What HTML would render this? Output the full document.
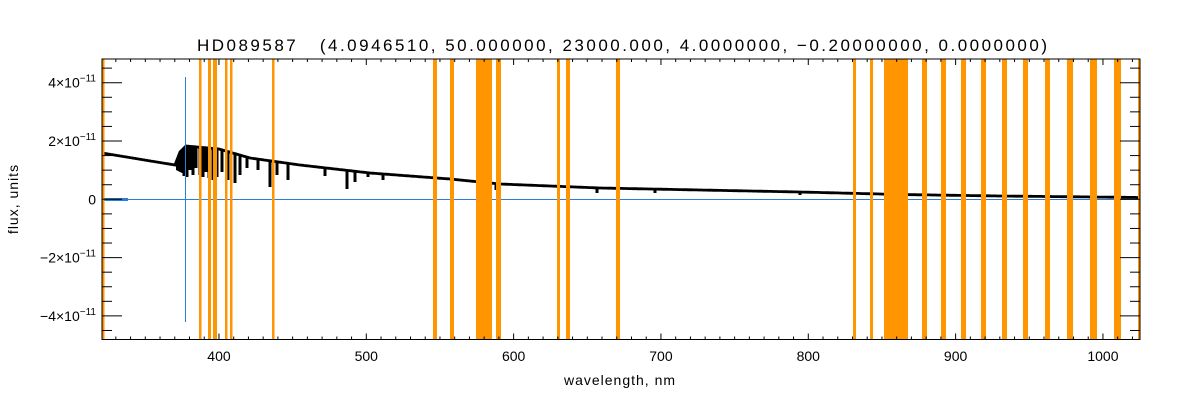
<!DOCTYPE html>
<html><head><meta charset="utf-8"><style>
html,body{margin:0;padding:0;background:#fff;}
svg{display:block;font-family:"Liberation Sans","DejaVu Sans",sans-serif;}
</style></head><body>
<svg id="s" width="1200" height="400" xmlns="http://www.w3.org/2000/svg">
<rect width="1200" height="400" fill="#fff"/>
<g id="spec"></g>
<line x1="102" y1="199.5" x2="1140" y2="199.5" stroke="#2a7fd4" stroke-width="1"/>
<line x1="185.5" y1="77" x2="185.5" y2="322" stroke="#2a7fd4" stroke-width="1"/>
<rect x="103" y="198" width="25" height="3" fill="#2a7fd4"/>
<g id="bands" fill="#ff9500"></g>
<g id="axes" stroke="#000" stroke-width="1" fill="none"></g>
<g id="labels" font-size="14" fill="#000"></g>
<text x="197" y="51" font-size="17" fill="#000" xml:space="preserve" textLength="850" lengthAdjust="spacing">HD089587   (4.0946510, 50.000000, 23000.000, 4.0000000, −0.20000000, 0.0000000)</text>
<text x="620" y="385" font-size="14" fill="#000" text-anchor="middle" letter-spacing="1">wavelength, nm</text>
<text transform="translate(18,199) rotate(-90)" font-size="14" fill="#000" text-anchor="middle" letter-spacing="1">flux, units</text>
</svg>
<script>
var NS="http://www.w3.org/2000/svg";
function el(p,t,a){var e=document.createElementNS(NS,t);for(var k in a)e.setAttribute(k,a[k]);p.appendChild(e);return e;}
var X=function(w){return 101.1+(w-320)*1.4733;};
var Y=function(f){return 199.3-f*29.15;};
var cont=[[102,153],[175,165],[180,152],[186,146],[219,149],[250,158],[300,165],[370,173],[450,179],[480,182],[500,184],[550,186],[600,188],[700,190],[800,192],[900,194.5],[1000,196],[1140,197.5]];
function cy(x){for(var i=0;i<cont.length-1;i++){if(x<=cont[i+1][0]){var a=cont[i],b=cont[i+1];return a[1]+(b[1]-a[1])*(x-a[0])/(b[0]-a[0]);}}return 197.5;}
var sp=document.getElementById('spec');
var d="M102 "+cy(102);
for(var x=102;x<=1140;x+=1){d+=" L"+x+" "+cy(x).toFixed(1);}
el(sp,'path',{d:d,stroke:'#000','stroke-width':2.8,fill:'none'});
el(sp,'path',{d:"M176 164 L180 156 L186 147 L186 175 L176 170 Z",fill:'#000'});
var lines=[[181,172],[184,176],[187,177],[190,170],[193,175],[196,168],[200,175],[203,177],[206,172],[209,178],[213,180],[217,177],[222,172],[228,180],[235,183],[240,175],[247,168],[258,170],[270,187],[277,175],[288,180],[325,176],[347,189],[355,182],[368,177],[383,180],[496,190],[597,193],[655,193],[800,195]];
lines.forEach(function(l){var c=cy(l[0]);el(sp,'rect',{x:l[0]-1.5,y:c,width:3,height:l[1]-c,fill:'#000'});});
var bands=[[102,104.5],[199,201.5],[208,211],[213,217],[225,227.5],[230,232.5],[272,274.5],[433,437],[450,454],[476,492],[496,501],[557,560],[566,570],[616,620],[853,856],[870,873],[884,908],[922,927],[941,946],[961,966],[981,986],[1002,1007],[1023,1028],[1045,1050],[1067,1073],[1090,1097],[1114,1121],[1138,1140]];
var bg=document.getElementById('bands');
bands.forEach(function(b){el(bg,'rect',{x:b[0],y:59,width:b[1]-b[0],height:281});});
var ax=document.getElementById('axes'),lb=document.getElementById('labels');
el(ax,'rect',{x:102,y:59,width:1038,height:280.5});
for(var w=330;w<=1020;w+=10){var xx=X(w);var L=(w%100==0)?6:3;
 el(ax,'line',{x1:xx,y1:339.5,x2:xx,y2:339.5-L});el(ax,'line',{x1:xx,y1:59,x2:xx,y2:59+L});
 if(w%100==0){var t=el(lb,'text',{x:xx,y:361,'text-anchor':'middle'});t.textContent=w;}}
for(var f=-4.5;f<=4.5;f+=0.5){var yy=Y(f);var maj=(Math.abs(f%2)<1e-6);var L=maj?20:10;
 el(ax,'line',{x1:102,y1:yy,x2:102+L,y2:yy});el(ax,'line',{x1:1140,y1:yy,x2:1140-L,y2:yy});
 if(maj){if(f==0){var t=el(lb,'text',{x:96,y:yy+5,'text-anchor':'end'});t.textContent='0';}
 else{var t=el(lb,'text',{x:96,y:yy+5,'text-anchor':'end'});
 t.innerHTML=(f<0?'−':'')+Math.abs(f)+'×10<tspan dy="-6" font-size="10">−11</tspan>';}}}
</script>
</body></html>
